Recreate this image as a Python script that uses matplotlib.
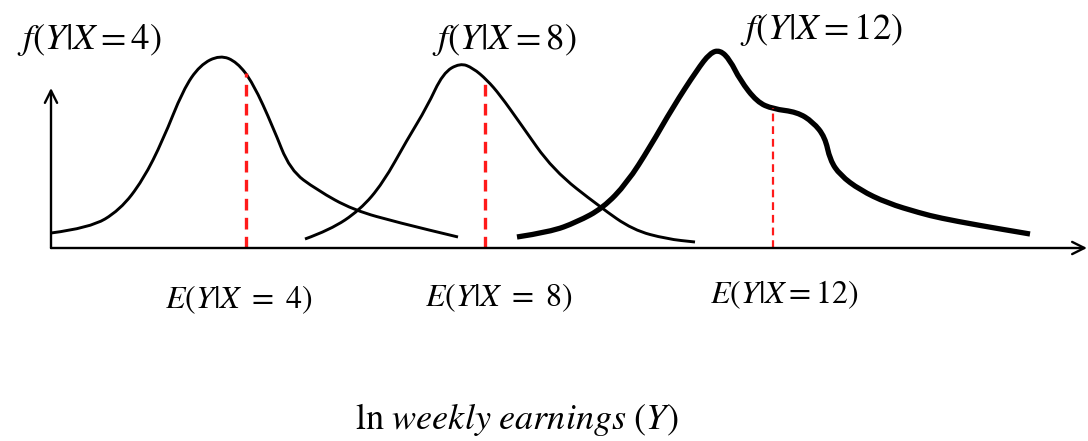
import matplotlib
matplotlib.use("Agg")
import matplotlib.pyplot as plt
from matplotlib.path import Path
from matplotlib.patches import PathPatch

plt.rcParams['mathtext.fontset'] = 'stix'
plt.rcParams['font.family'] = ['Liberation Serif', 'DejaVu Serif']

# traced density curves, in picture units (x right, y down)
x4 = [51, 90, 120, 143, 163, 183, 200, 220, 237, 253, 273, 290, 317, 353, 400, 458]
y4 = [233, 228, 210, 180, 140, 90, 65, 55, 62, 83, 127, 170, 190, 210, 223, 237]

x8 = [305, 330, 360, 383, 407, 427, 443, 460, 473, 487, 500, 520, 553, 600, 633, 667, 695]
y8 = [239, 230, 210, 183, 140, 107, 73, 63, 68, 80, 95, 123, 170, 207, 230, 239, 242]

x12 = [517, 550, 577, 603, 627, 650, 673, 697, 710, 720, 730, 740, 757, 773, 797,
       813, 825, 830, 840, 860, 887, 920, 940, 977, 1030]
y12 = [237, 232, 222, 208, 183, 147, 107, 70, 53, 50, 60, 80, 102, 109, 112,
       122, 137, 160, 175, 190, 203, 213, 218, 225, 234]

# conditional means and where the dashed line meets each curve
means_x = [246, 485, 773]
means_top = [73, 80, 108]

f_labels = [r'$f(Y|X=4)$', r'$f(Y|X=8)$', r'$f(Y|X=12)$']
f_pos = [(17, 40), (432, 40), (740, 30)]
e_labels = [r'$E(Y|X\ =\ 4)$', r'$E(Y|X\ =\ 8)$', r'$E(Y|X=12)$']
e_pos = [(165, 300), (425, 298), (710, 295)]
xlabel = r'$\mathrm{ln}\ weekly\ earnings\ (Y)$'

axis_y = 248
axis_x = 51


def smooth_path(xs, ys):
    pts = list(zip(xs, ys))
    verts = [pts[0]]
    codes = [Path.MOVETO]
    for i in range(1, len(pts) - 1):
        mid = ((pts[i][0] + pts[i + 1][0]) / 2, (pts[i][1] + pts[i + 1][1]) / 2)
        verts += [pts[i], mid]
        codes += [Path.CURVE3, Path.CURVE3]
    verts.append(pts[-1])
    codes.append(Path.LINETO)
    return Path(verts, codes)


fig = plt.figure(figsize=(10.88, 4.41), dpi=100)
ax = fig.add_axes([0, 0, 1, 1])
ax.set_xlim(0, 1088)
ax.set_ylim(441, 0)
ax.axis('off')

# axes with arrows
ax.annotate('', xy=(1087, axis_y), xytext=(axis_x, axis_y),
            arrowprops=dict(arrowstyle='->', lw=1.7, color='black',
                            mutation_scale=22, shrinkA=0, shrinkB=0))
ax.annotate('', xy=(axis_x, 88), xytext=(axis_x, axis_y),
            arrowprops=dict(arrowstyle='->', lw=1.7, color='black',
                            mutation_scale=22, shrinkA=0, shrinkB=0))

for xs, ys, lw in [(x4, y4, 2.1), (x8, y8, 2.1), (x12, y12, 3.8)]:
    ax.add_patch(PathPatch(smooth_path(xs, ys), fill=False, lw=lw,
                           edgecolor='black', capstyle='butt', joinstyle='round'))

for mx, top, lw in zip(means_x, means_top, [2.4, 2.4, 1.6]):
    ax.plot([mx, mx], [axis_y, top], color='#ff1a1a', lw=lw,
            dashes=(3.5, 2.2))

for lab, (px, py) in zip(f_labels, f_pos):
    ax.text(px, py, lab, fontsize=26.5, ha='left', va='center')
for lab, (px, py) in zip(e_labels, e_pos):
    ax.text(px, py, lab, fontsize=23, ha='left', va='center')

ax.text(355, 420, xlabel, fontsize=26, ha='left', va='center')

fig.savefig('out.png', dpi=100)
